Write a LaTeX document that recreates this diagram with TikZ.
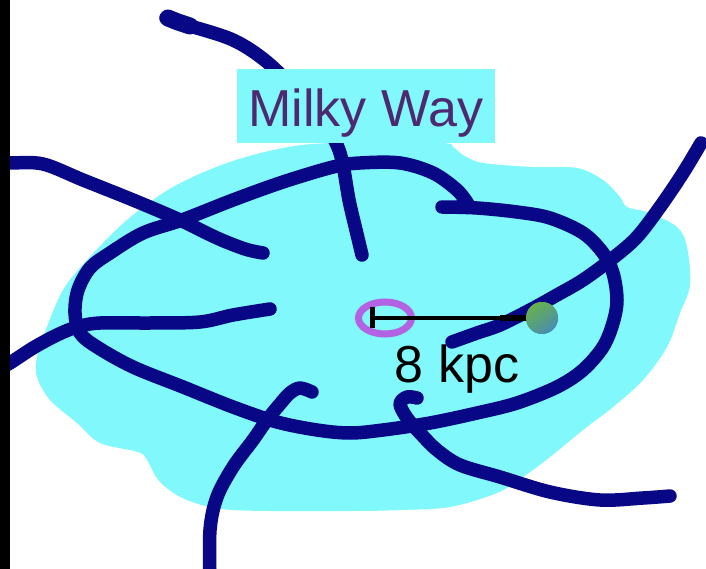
\documentclass[tikz,border=0pt]{standalone}
\usepackage{fontspec}
\setmainfont{Liberation Sans}
\usetikzlibrary{shapes.geometric,calc}
\definecolor{navy}{RGB}{8,8,134}
\definecolor{haze}{RGB}{128,248,252}
\definecolor{plum}{RGB}{78,40,112}
\definecolor{orchid}{RGB}{180,98,228}
\definecolor{dotgreen}{RGB}{104,176,76}
\definecolor{dotblue}{RGB}{72,140,178}
\begin{document}
\begin{tikzpicture}[x=1pt,y=-1pt,
  arm/.style={draw=navy,line width=13.5pt,line cap=round,line join=round},
  title/.style={fill=haze,text=plum,font=\fontsize{52}{60}\selectfont,
    inner sep=0pt,minimum width=258pt,text height=58pt,text depth=16pt,anchor=base},
  scaletext/.style={text=black,font=\fontsize{52}{60}\selectfont,inner sep=0pt,anchor=base},
  core/.style={ellipse,draw=orchid,line width=7pt,minimum width=53pt,minimum height=32pt,inner sep=0pt},
  sundot/.style={circle,minimum size=32pt,inner sep=0pt,top color=dotgreen,bottom color=dotblue,shading angle=35}]
\useasboundingbox (0,0) rectangle (706,569);
\fill[white] (0,0) rectangle (706,569);
% disc glow
\fill[haze] plot[smooth cycle,tension=0.55] coordinates {
  (37,357) (47,327) (63,290) (87,260) (127,220) (173,187) (227,163) (283,148)
  (333,143) (440,143) (453,147) (463,155) (483,163) (533,167) (577,168)
  (603,180) (620,197) (627,207) (650,213) (677,227) (687,247) (690,285)
  (680,313) (667,347) (643,380) (613,407) (583,430) (550,457) (523,477)
  (497,493) (450,507) (400,510) (350,511) (233,510) (187,500) (160,482)
  (147,460) (138,452) (100,443) (77,423) (50,400) (37,377)};
% spiral arms
\draw[arm] plot[smooth,tension=0.55] coordinates {
  (442,207) (477,208) (517,212) (550,218) (583,233) (603,253) (613,273)
  (617,300) (613,323) (603,347) (583,370) (557,387) (517,403) (477,413)
  (430,423) (383,430) (350,433) (317,430) (277,422) (233,407) (183,387)
  (133,367) (97,347) (80,333) (75,313) (78,290) (90,268) (110,253)
  (143,233) (182,220) (233,200) (283,182) (333,167) (360,163) (400,163)
  (433,173) (457,190) (468,204)};
\draw[arm] plot[smooth,tension=0.55] coordinates {
  (166,18) (187,25) (233,40) (267,62) (300,95) (325,125) (337,145)
  (343,165) (349,200) (356,230) (362,255)};
\draw[arm,line width=17pt] plot[smooth,tension=0.55] coordinates {
  (168,18) (178,22) (190,26)};
\draw[arm] plot[smooth,tension=0.55] coordinates {
  (0,163) (10,163) (43,164) (83,180) (133,200) (180,220) (217,238)
  (245,249) (263,253)};
\draw[arm] plot[smooth,tension=0.55] coordinates {
  (0,368) (10,363) (33,348) (57,335) (77,327) (100,323) (150,323)
  (200,322) (233,315) (270,309)};
\draw[arm] plot[smooth,tension=0.55] coordinates {
  (312,392) (300,388) (290,393) (280,404) (267,420) (253,440) (233,467)
  (217,497) (210,530) (210,580)};
\draw[arm] plot[smooth,tension=0.55] coordinates {
  (417,398) (407,397) (400,404) (407,418) (420,433) (437,450) (460,465)
  (500,477) (550,492) (600,500) (643,498) (670,496)};
\draw[arm] plot[smooth,tension=0.55] coordinates {
  (701,143) (683,173) (660,207) (637,237) (613,258) (583,280) (557,295)
  (530,310) (500,325) (477,333) (452,342)};
% labels and the distance bar
\node[title] (mw) at (366,127) {Milky Way};
\node[core] (gc) at (385,318) {};
\node[sundot] (sun) at (542,318) {};
\coordinate (tick) at (372,318);
\draw[line width=3.5pt] (tick) -- (sun.center);
\draw[line width=6pt] ($(sun.center)+(-42,0)$) -- (sun.center);
\draw[line width=5pt] ($(tick)+(0,-11)$) -- ($(tick)+(0,10)$);
\node[sundot] at (sun) {};
\node[scaletext] (dist) at (457,382) {8 kpc};
% dark strip along the left edge
\fill[black] (0,0) rectangle (10,569);
\end{tikzpicture}
\end{document}
